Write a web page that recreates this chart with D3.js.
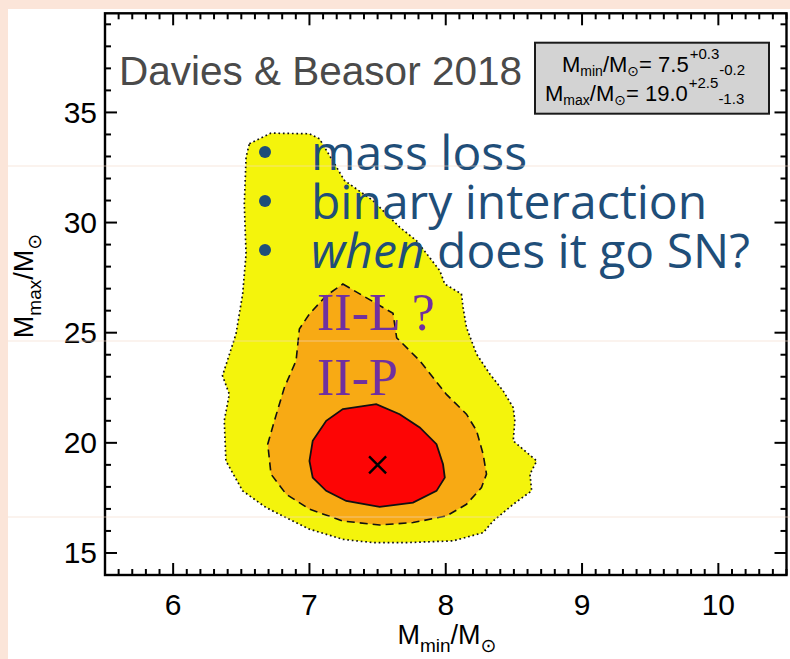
<!DOCTYPE html>
<html>
<head>
<meta charset="utf-8">
<script src="https://cdn.jsdelivr.net/npm/d3@7"></script>
<style>
  html, body { margin: 0; padding: 0; background: #fbe5d9; }
  svg { display: block; }
</style>
</head>
<body>
<svg id="chart" width="790" height="659"></svg>
<script>
// Axis ranges and ticks
const xDomain = [5.5, 10.5];
const yDomain = [14, 39.5];
const xMajorTicks = [6, 7, 8, 9, 10];
const yMajorTicks = [15, 20, 25, 30, 35];

// Confidence contours in (M_min, M_max) space
const contourOuter = [
  [6.559, 33.58], [6.718, 34.06], [7.0, 34.03], [7.074, 33.80], [7.257, 31.91],
  [7.465, 31.0], [7.662, 29.79], [7.785, 29.18], [7.956, 27.82], [7.993, 27.21],
  [8.115, 26.76], [8.127, 26.15], [8.152, 25.24], [8.226, 24.03], [8.324, 23.12],
  [8.421, 22.36], [8.495, 21.60], [8.507, 21.0], [8.495, 20.09], [8.667, 19.18],
  [8.618, 18.58], [8.630, 17.82], [8.495, 17.21], [8.348, 16.45], [8.274, 15.92],
  [8.054, 15.55], [7.711, 15.47], [7.465, 15.47], [7.245, 15.62], [7.0, 16.08],
  [6.682, 17.06], [6.510, 17.82], [6.387, 19.18], [6.375, 21.0], [6.412, 22.21],
  [6.362, 23.05], [6.461, 24.94], [6.510, 26.76], [6.535, 28.58], [6.522, 30.85],
  [6.535, 32.97]
];
const contourMiddle = [
  [7.245, 27.21], [7.613, 25.88], [7.640, 24.77], [7.809, 23.73], [8.005, 22.20],
  [8.152, 21.30], [8.226, 20.55], [8.274, 19.49], [8.299, 18.58], [8.262, 17.97],
  [8.152, 17.21], [8.005, 16.68], [7.760, 16.38], [7.515, 16.27], [7.245, 16.45],
  [7.0, 16.99], [6.829, 17.67], [6.718, 18.58], [6.694, 19.94], [6.743, 21.0],
  [6.816, 22.51], [6.902, 23.73], [6.926, 25.17], [7.0, 25.85], [7.123, 26.68]
];
const contourInner = [
  [7.245, 21.53], [7.490, 21.76], [7.662, 21.30], [7.809, 20.70], [7.932, 19.94],
  [7.980, 19.03], [7.993, 18.42], [7.932, 17.82], [7.760, 17.29], [7.515, 17.09],
  [7.270, 17.36], [7.123, 17.82], [7.024, 18.42], [7.0, 19.18], [7.024, 20.09],
  [7.123, 21.0]
];

// Best fit
const bestMmin = 7.5, bestMmax = 19.0;
const mminErr = ["+0.3", "-0.2"];
const mmaxErr = ["+2.5", "-1.3"];

// Annotation text
const bullets = ["mass loss", "binary interaction", "does it go SN?"];
const snTypes = ["II-L ?", "II-P"];
const title = "Davies & Beasor 2018";

const svg = d3.select("#chart");

// White slide panel
svg.append("rect").attr("x", 8).attr("y", 9).attr("width", 782).attr("height", 650).attr("fill", "#ffffff");

const x = d3.scaleLinear().domain(xDomain).range([105, 786.5]);
const y = d3.scaleLinear().domain(yDomain).range([575, 13.3]);

const line = d3.line().x(d => x(d[0])).y(d => y(d[1])).curve(d3.curveLinearClosed);

const plot = svg.append("g");
plot.append("path").attr("d", line(contourOuter)).attr("fill", "#f4f40c")
  .attr("stroke", "#111").attr("stroke-width", 1.7).attr("stroke-dasharray", "1.7,2.8");
plot.append("path").attr("d", line(contourMiddle)).attr("fill", "#f8aa14")
  .attr("stroke", "#111").attr("stroke-width", 1.6).attr("stroke-dasharray", "8,5");
plot.append("path").attr("d", line(contourInner)).attr("fill", "#fd0505")
  .attr("stroke", "#111").attr("stroke-width", 1.8);

// Best-fit cross
const cx = x(bestMmin), cy = y(bestMmax), cs = 8.5;
plot.append("path")
  .attr("d", `M${cx - cs},${cy - cs}L${cx + cs},${cy + cs}M${cx - cs},${cy + cs}L${cx + cs},${cy - cs}`)
  .attr("stroke", "#000").attr("stroke-width", 2.4).attr("fill", "none");

// Axes: frame with inward ticks on all four sides
const axes = svg.append("g");
const xMinor = d3.range(55, 106).map(v => v / 10);
const yMinor = d3.range(14, 40);
const tickW = 2;
xMinor.forEach(v => {
  const major = Math.abs(v - Math.round(v)) < 1e-6;
  const len = major ? 12 : 6;
  axes.append("line").attr("x1", x(v)).attr("x2", x(v)).attr("y1", 575).attr("y2", 575 - len)
    .attr("stroke", "#000").attr("stroke-width", tickW);
  axes.append("line").attr("x1", x(v)).attr("x2", x(v)).attr("y1", 13.3).attr("y2", 13.3 + len)
    .attr("stroke", "#000").attr("stroke-width", tickW);
});
yMinor.forEach(v => {
  const major = v % 5 === 0;
  const len = major ? 12 : 6;
  axes.append("line").attr("y1", y(v)).attr("y2", y(v)).attr("x1", 105).attr("x2", 105 + len)
    .attr("stroke", "#000").attr("stroke-width", tickW);
  axes.append("line").attr("y1", y(v)).attr("y2", y(v)).attr("x1", 786.5).attr("x2", 786.5 - len)
    .attr("stroke", "#000").attr("stroke-width", tickW);
});
axes.append("rect").attr("x", 105).attr("y", 13.3).attr("width", 786.5 - 105).attr("height", 575 - 13.3)
  .attr("fill", "none").attr("stroke", "#000").attr("stroke-width", 2.4);

const sans = "'Liberation Sans', Arial, Helvetica, sans-serif";
axes.selectAll(".xt").data(xMajorTicks).enter().append("text")
  .attr("x", d => x(d)).attr("y", 615).attr("text-anchor", "middle")
  .attr("font-family", sans).attr("font-size", 30).attr("fill", "#000").text(d => d);
axes.selectAll(".yt").data(yMajorTicks).enter().append("text")
  .attr("x", 97).attr("y", d => y(d) + 10.5).attr("text-anchor", "end")
  .attr("font-family", sans).attr("font-size", 30).attr("fill", "#000").text(d => d);

// Axis titles
function massLabel(sel, sub) {
  sel.append("tspan").text("M");
  sel.append("tspan").attr("dy", 8).attr("font-size", 19).text(sub);
  sel.append("tspan").attr("dy", -8).text("/M");
  sel.append("tspan").attr("dy", 8).attr("font-size", 19).attr("font-family", "'DejaVu Sans', sans-serif").text("\u2299");
}
const xt = svg.append("text").attr("x", 447).attr("y", 644).attr("text-anchor", "middle")
  .attr("font-family", sans).attr("font-size", 27).attr("fill", "#000");
massLabel(xt, "min");
const yt = svg.append("text").attr("transform", "translate(33,286) rotate(-90)").attr("text-anchor", "middle")
  .attr("font-family", sans).attr("font-size", 27).attr("fill", "#000");
massLabel(yt, "max");

// Title
svg.append("text").attr("x", 119).attr("y", 85).attr("font-family", sans).attr("font-size", 40.5)
  .attr("fill", "#4a4a4a").text(title);

// Result box
svg.append("rect").attr("x", 535).attr("y", 42.7).attr("width", 234).attr("height", 71)
  .attr("fill", "#d3d3d3").attr("stroke", "#1a1a1a").attr("stroke-width", 2);

function resultLine(x0, yb, sub, value, err) {
  const t = svg.append("text").attr("x", x0).attr("y", yb).attr("font-family", sans)
    .attr("font-size", 22).attr("fill", "#000");
  t.append("tspan").text("M");
  t.append("tspan").attr("dy", 4).attr("font-size", 14).text(sub);
  t.append("tspan").attr("dy", -4).text("/M");
  t.append("tspan").attr("dy", 4).attr("font-size", 14).attr("font-family", "'DejaVu Sans', sans-serif").text("\u2299");
  t.append("tspan").attr("dy", -4).text("= " + value);
  const end = x0 + t.node().getComputedTextLength();
  const sup = svg.append("text").attr("x", end + 1).attr("y", yb - 13).attr("font-family", sans)
    .attr("font-size", 15).attr("fill", "#000").text(err[0]);
  const supEnd = end + 1 + sup.node().getComputedTextLength();
  svg.append("text").attr("x", supEnd).attr("y", yb + 3).attr("font-family", sans)
    .attr("font-size", 15).attr("fill", "#000").text(err[1]);
}
resultLine(562, 72, "min", bestMmin.toFixed(1), mminErr);
resultLine(545, 101, "max", bestMmax.toFixed(1), mmaxErr);

// Bullet list
const blue = "#1f4e79";
const bulletFont = "'Open Sans', 'Noto Sans', sans-serif";
const bulletY = [170, 219, 268];
bulletY.forEach((yb, i) => {
  svg.append("circle").attr("cx", 265).attr("cy", yb - 18).attr("r", 6).attr("fill", blue);
  const t = svg.append("text").attr("x", 311).attr("y", yb).attr("font-family", bulletFont)
    .attr("font-size", 48).attr("fill", blue);
  if (i === 2) {
    t.append("tspan").attr("font-style", "italic").text("when");
    t.append("tspan").text(" " + bullets[i]);
  } else {
    t.text(bullets[i]);
  }
});

// Supernova type labels
const serif = "'Liberation Serif', 'Times New Roman', serif";
svg.append("text").attr("x", 317).attr("y", 330).attr("font-family", serif).attr("font-size", 52)
  .attr("fill", "#7030a0").text(snTypes[0]);
svg.append("text").attr("x", 317).attr("y", 395).attr("font-family", serif).attr("font-size", 52)
  .attr("fill", "#7030a0").text(snTypes[1]);

// Faint slide guide lines
[166, 341, 517].forEach(v => {
  svg.append("line").attr("x1", 8).attr("x2", 790).attr("y1", v).attr("y2", v)
    .attr("stroke", "#f4d9c8").attr("stroke-width", 1).attr("opacity", 0.6);
});
</script>
</body>
</html>
